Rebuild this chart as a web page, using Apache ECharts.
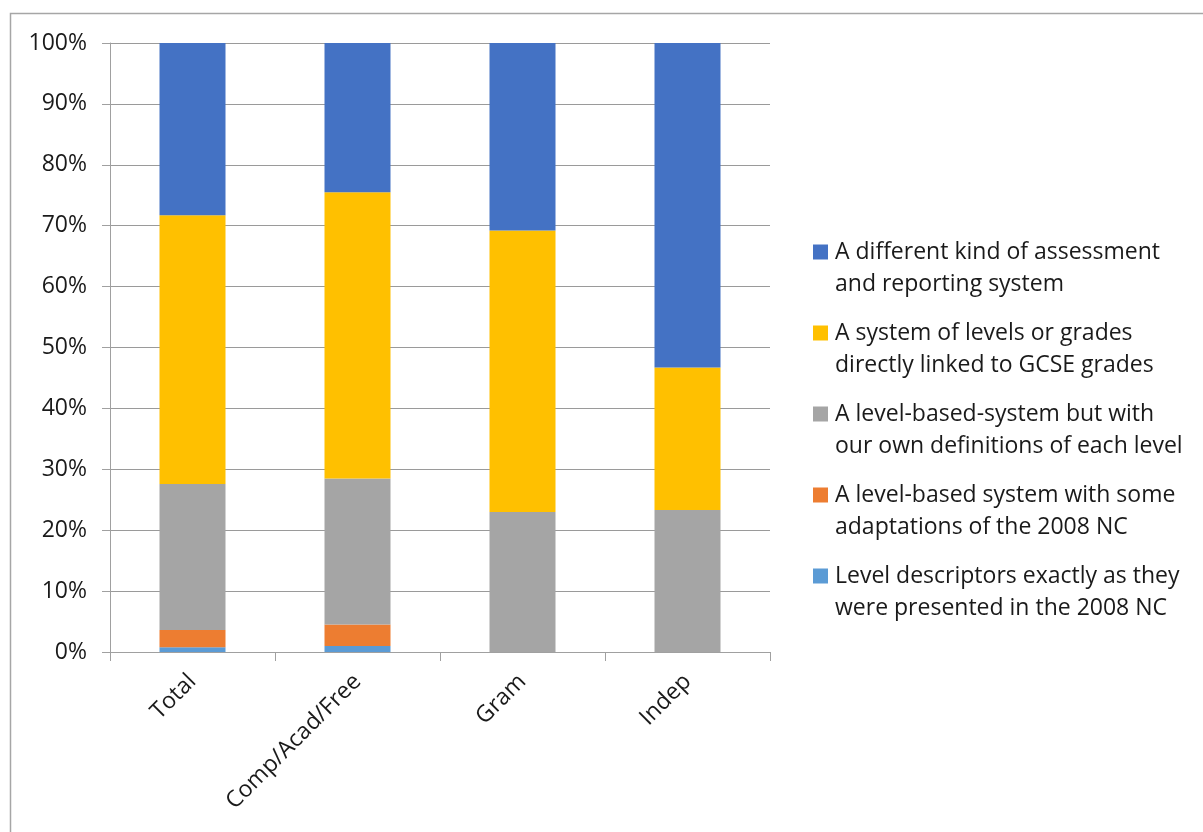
<!DOCTYPE html>
<html>
<head>
<meta charset="utf-8">
<script src="https://cdn.jsdelivr.net/npm/echarts@6/dist/echarts.min.js"></script>
<style>
  html, body { margin: 0; padding: 0; background: #fff; }
  #chart { width: 1203px; height: 832px; }
</style>
</head>
<body>
<div id="chart"></div>
<script>
// School types along the x axis
const categories = ['Total', 'Comp/Acad/Free', 'Gram', 'Indep'];

// Share of schools (%) choosing each approach, bottom segment first
const levelDescriptorsExact = [0.8, 1.0, 0, 0];
const levelAdaptations2008 = [2.8, 3.5, 0, 0];
const levelOwnDefinitions = [24.0, 24.0, 23.0, 23.3];
const linkedToGCSE = [44.1, 47.0, 46.2, 23.4];
const differentSystem = [28.3, 24.5, 30.8, 53.3];

const seriesNames = [
  'Level descriptors exactly as they\nwere presented in the 2008 NC',
  'A level-based system with some\nadaptations of the 2008 NC',
  'A level-based-system but with\nour own definitions of each level',
  'A system of levels or grades\ndirectly linked to GCSE grades',
  'A different kind of assessment\nand reporting system'
];
const seriesValues = [levelDescriptorsExact, levelAdaptations2008, levelOwnDefinitions, linkedToGCSE, differentSystem];
const colors = ['#5B9BD5', '#ED7D31', '#A5A5A5', '#FFC000', '#4472C4'];

const FONT = '"Open Sans", "Noto Sans", sans-serif';

// Legend text: a coloured square on the first line, indented second line
const rich = { sp: { width: 15, height: 15 } };
colors.forEach((c, i) => {
  rich['sq' + i] = { width: 15, height: 15, backgroundColor: c, align: 'left' };
});
rich.t = { fontSize: 23, fontFamily: FONT, color: '#1a1a1a', lineHeight: 32, padding: [0, 0, 0, 7] };

const chart = echarts.init(document.getElementById('chart'), null, { renderer: 'canvas' });

chart.setOption({
  animation: false,
  backgroundColor: '#fff',
  color: colors,
  graphic: [{
    type: 'rect',
    shape: { x: 10.5, y: 13.5, width: 1205, height: 830 },
    style: { fill: 'none', stroke: '#a6a6a6', lineWidth: 1.5 },
    silent: true
  }],
  grid: { left: 110, right: 433, top: 43, bottom: 180, containLabel: false },
  legend: {
    orient: 'vertical',
    left: 803,
    top: 231,
    itemGap: 17,
    itemWidth: 0,
    itemHeight: 0,
    icon: 'rect',
    selectedMode: false,
    data: seriesNames.slice().reverse(),
    formatter: function (name) {
      const idx = seriesNames.indexOf(name);
      const lines = name.split('\n');
      return lines.map((ln, k) => (k === 0 ? '{sq' + idx + '|}' : '{sp|}') + '{t|' + ln + '}').join('\n');
    },
    textStyle: { rich: rich, lineHeight: 32, fontSize: 23, fontFamily: FONT }
  },
  xAxis: {
    type: 'category',
    data: categories,
    axisLine: { show: true, lineStyle: { color: '#a0a0a0', width: 1 } },
    axisTick: { show: true, alignWithLabel: false, length: 9, lineStyle: { color: '#a0a0a0' } },
    axisLabel: {
      rotate: 45,
      interval: 0,
      margin: 26,
      fontSize: 23,
      fontFamily: FONT,
      color: '#1a1a1a'
    }
  },
  yAxis: {
    type: 'value',
    min: 0,
    max: 100,
    interval: 10,
    axisLine: { show: true, lineStyle: { color: '#a0a0a0', width: 1 } },
    axisTick: { show: true, inside: false, length: 8, lineStyle: { color: '#a0a0a0' } },
    splitLine: { show: true, lineStyle: { color: '#9a9a9a', width: 1 } },
    axisLabel: {
      formatter: '{value}%',
      margin: 23,
      fontSize: 23,
      fontFamily: FONT,
      color: '#1a1a1a'
    }
  },
  series: seriesValues.map((vals, i) => ({
    name: seriesNames[i],
    type: 'bar',
    stack: 'share',
    barWidth: '40%',
    data: vals,
    itemStyle: { color: colors[i] }
  }))
});
</script>
</body>
</html>
